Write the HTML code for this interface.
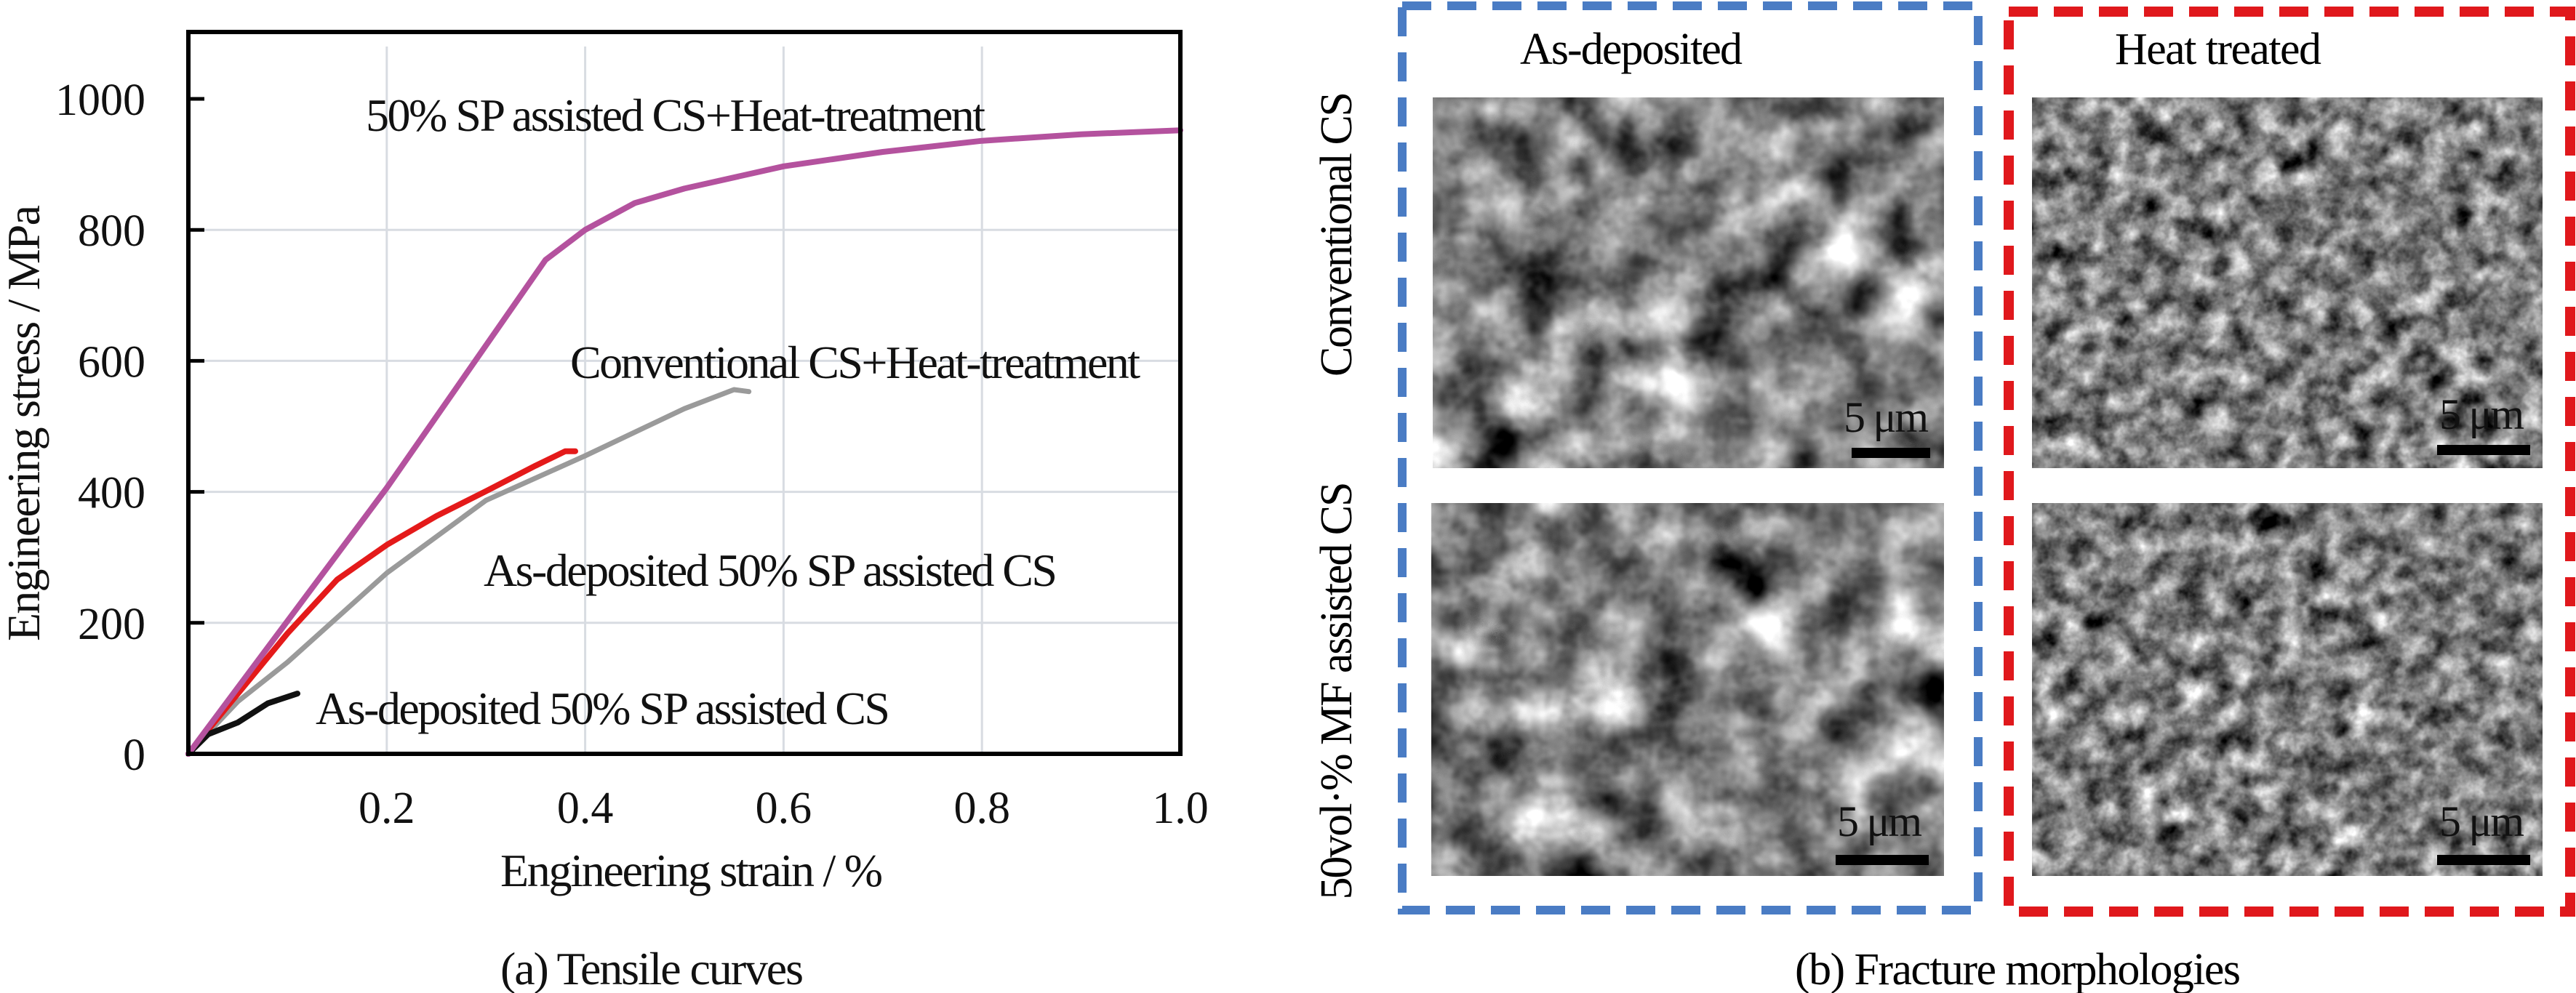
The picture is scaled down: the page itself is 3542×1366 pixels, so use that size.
<!DOCTYPE html>
<html><head><meta charset="utf-8"><style>
html,body{margin:0;padding:0;background:#fff;}
svg{display:block;font-family:"Liberation Serif",serif;}
</style></head><body>
<svg id="fig" width="3542" height="1366" viewBox="0 0 3542 1366" xmlns="http://www.w3.org/2000/svg">
<defs>
<filter id="tex" x="0" y="0" width="100%" height="100%" color-interpolation-filters="sRGB">
<feTurbulence type="fractalNoise" baseFrequency="0.012" numOctaves="4" seed="3" result="n"/>
<feColorMatrix type="matrix" values="0.33 0.33 0.33 0 0  0.33 0.33 0.33 0 0  0.33 0.33 0.33 0 0  0 0 0 0 1" in="n" result="g"/>
<feComponentTransfer in="g"><feFuncR type="linear" slope="2.6" intercept="-0.78"/><feFuncG type="linear" slope="2.6" intercept="-0.78"/><feFuncB type="linear" slope="2.6" intercept="-0.78"/></feComponentTransfer>
</filter>
<filter id="tex2" x="0" y="0" width="100%" height="100%" color-interpolation-filters="sRGB">
<feTurbulence type="fractalNoise" baseFrequency="0.03" numOctaves="4" seed="9" result="n"/>
<feColorMatrix type="matrix" values="0.33 0.33 0.33 0 0  0.33 0.33 0.33 0 0  0.33 0.33 0.33 0 0  0 0 0 0 1" in="n" result="g"/>
<feComponentTransfer in="g"><feFuncR type="linear" slope="2.2" intercept="-0.6"/><feFuncG type="linear" slope="2.2" intercept="-0.6"/><feFuncB type="linear" slope="2.2" intercept="-0.6"/></feComponentTransfer>
</filter>
</defs>
<g id="chart"></g>
<g>
 <rect x="1970" y="134" width="703" height="510" fill="#888" filter="url(#tex)"/>
 <rect x="2794" y="134" width="702" height="510" fill="#888" filter="url(#tex2)"/>
 <rect x="1968" y="692" width="705" height="513" fill="#888" filter="url(#tex)"/>
 <rect x="2794" y="692" width="702" height="513" fill="#888" filter="url(#tex2)"/>
 <g font-size="60" fill="#111">
  <text x="2535" y="594" textLength="117">5 μm</text><rect x="2546" y="616" width="108" height="14" fill="#000"/>
  <text x="3354" y="590" textLength="117">5 μm</text><rect x="3351" y="612" width="128" height="14" fill="#000"/>
  <text x="2526" y="1150" textLength="117">5 μm</text><rect x="2524" y="1176" width="128" height="14" fill="#000"/>
  <text x="3354" y="1150" textLength="117">5 μm</text><rect x="3351" y="1176" width="128" height="14" fill="#000"/>
 </g>
 <rect x="1928" y="8" width="792" height="1244" fill="none" stroke="#4a7cc4" stroke-width="12" stroke-dasharray="40,22"/>
 <rect x="2762" y="16" width="772" height="1238" fill="none" stroke="#e0181c" stroke-width="14" stroke-dasharray="40,22"/>
 <text x="2090" y="88" font-size="62" textLength="306">As-deposited</text>
 <text x="2908" y="88" font-size="62" textLength="284">Heat treated</text>
 <text transform="translate(1858,322) rotate(-90)" text-anchor="middle" font-size="62" textLength="392">Conventional CS</text>
 <text transform="translate(1858,950) rotate(-90)" text-anchor="middle" font-size="62" textLength="575">50vol·% MF assisted CS</text>
 <text x="2468" y="1354" font-size="62" textLength="613">(b) Fracture morphologies</text>
</g>
</svg>
<script>
const xTicks=[0.2,0.4,0.6,0.8,1.0];
const xTickLabels=["0.2","0.4","0.6","0.8","1.0"];
const yTicks=[0,200,400,600,800,1000];
const yTickLabels=["0","200","400","600","800","1000"];
const strainSP=[0,0.2,0.36,0.4,0.45,0.5,0.6,0.7,0.8,0.9,1.0];
const stressSP=[0,406,754,800,841,863,897,919,936,946,952];
const strainConv=[0,0.05,0.1,0.2,0.3,0.4,0.5,0.55,0.565];
const stressConv=[0,80,140,276,387,455,527,556,553];
const strainRed=[0,0.05,0.1,0.15,0.2,0.25,0.3,0.35,0.38,0.39];
const stressRed=[0,92,184,266,319,363,401,440,462,462];
const strainBlack=[0,0.02,0.05,0.08,0.11];
const stressBlack=[0,30,48,77,92];

const NS="http://www.w3.org/2000/svg";
const L=259,R=1623,T=44,B=1037;
const xs=v=>L+v*(R-L);
const ys=v=>B-v*(B-136)/1000;
const g=document.getElementById('chart');
function mk(tag,attrs,parent){const e=document.createElementNS(NS,tag);for(const k in attrs)e.setAttribute(k,attrs[k]);(parent||g).appendChild(e);return e;}

xTicks.slice(0,4).forEach(v=>{const e=mk('line',{x1:xs(v),x2:xs(v),y1:T+20,y2:B,stroke:'#d8dce2','stroke-width':3});

});
yTicks.slice(1,5).forEach(v=>{const e=mk('line',{x1:L,x2:R,y1:ys(v),y2:ys(v),stroke:'#d8dce2','stroke-width':3});

});

function series(xa,ya,color,w,name){
 const d=xa.map((x,i)=>(i?'L':'M')+xs(x).toFixed(1)+','+ys(ya[i]).toFixed(1)).join(' ');
 const p=mk('path',{d:d,fill:'none',stroke:color,'stroke-width':w,'stroke-linejoin':'round','stroke-linecap':'round'});
 
 
}
series(strainConv,stressConv,'#9a9a9a',7,'series-conventional-heat-treated');
series(strainRed,stressRed,'#e41a1a',8,'series-as-deposited-sp');
series(strainBlack,stressBlack,'#111',8,'series-as-deposited-black');
series(strainSP,stressSP,'#b4529e',8,'series-sp-heat-treated');

const ax=mk('rect',{x:L,y:T,width:R-L,height:B-T,fill:'none',stroke:'#000','stroke-width':6});


yTicks.forEach((v,i)=>{
 const t=mk('line',{x1:L,x2:L+22,y1:ys(v),y2:ys(v),stroke:'#000','stroke-width':5});
 
 
 const l=mk('text',{x:200,y:ys(v)+22,'text-anchor':'end','font-size':62,fill:'#111'});
 l.textContent=yTickLabels[i];
 
 
});
xTicks.forEach((v,i)=>{
 const l=mk('text',{x:xs(v),y:1132,'text-anchor':'middle','font-size':62,fill:'#111'});
 l.textContent=xTickLabels[i];
 
 
});
function label(txt,x,y,w,name,extra){const t=mk('text',Object.assign({x:x,y:y,'font-size':64,fill:'#111',textLength:w},extra||{}));t.textContent=txt;

return t;}
label('50% SP assisted CS+Heat-treatment',503,180,852,'label-sp-heat');
label('Conventional CS+Heat-treatment',784,520,784,'label-conventional-heat');
label('As-deposited 50% SP assisted CS',665,806,789,'label-as-deposited-mid');
label('As-deposited 50% SP assisted CS',434,996,790,'label-as-deposited-low');
label('Engineering strain / %',688,1219,526,'x-axis-title');
label('(a) Tensile curves',688,1354,417,'caption-a');
label('Engineering stress / MPa',0,0,600,'y-axis-title',{transform:'translate(54,882) rotate(-90)'});
</script>
</body></html>
